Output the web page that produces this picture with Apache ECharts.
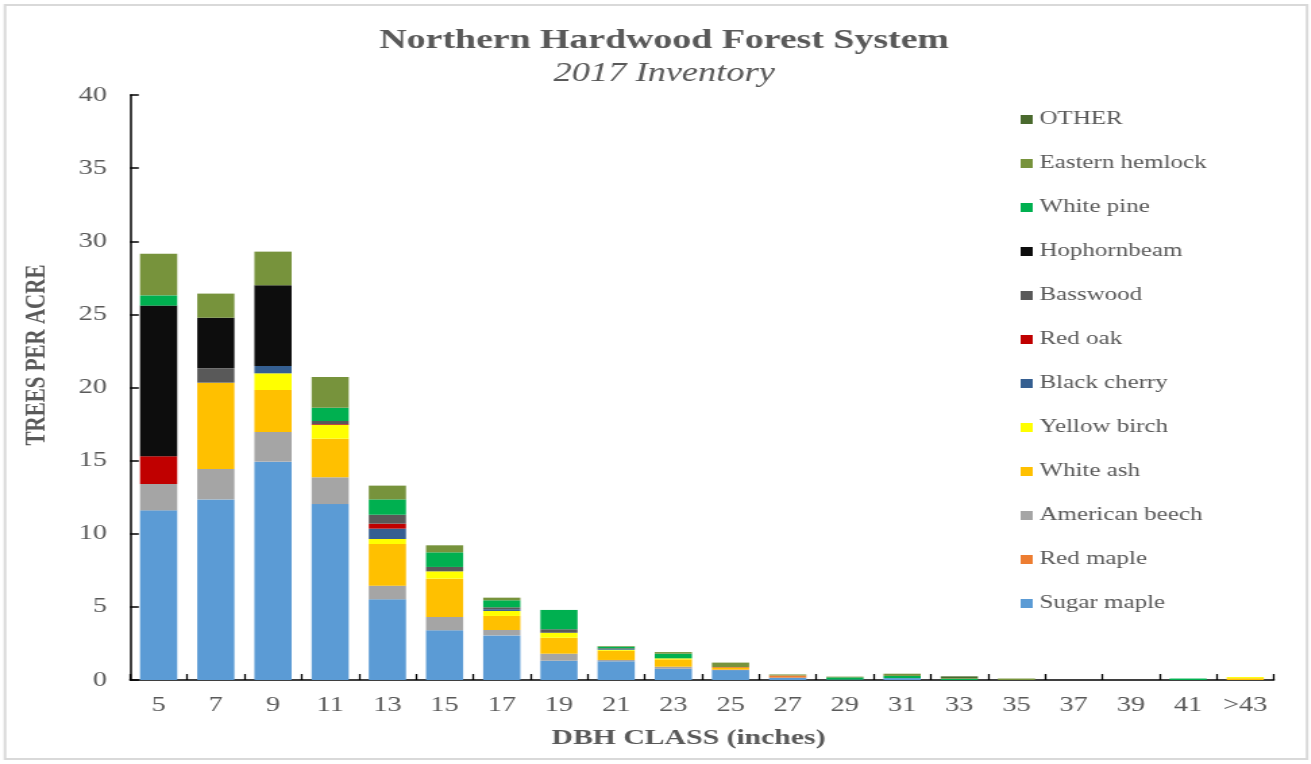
<!DOCTYPE html>
<html>
<head>
<meta charset="utf-8">
<script src="https://cdn.jsdelivr.net/npm/echarts@6/dist/echarts.min.js"></script>
<style>
  html, body { margin: 0; padding: 0; background: #ffffff; overflow: hidden; }
  /* The chart is laid out narrower and widened horizontally, giving the wide-set lettering */
  #chart { width: 971px; height: 764px; transform: scaleX(1.35); transform-origin: 0 0; }
</style>
</head>
<body>
<div id="chart"></div>
<script>
// DBH classes (inches)
const dbhClasses = ['5', '7', '9', '11', '13', '15', '17', '19', '21', '23', '25', '27', '29', '31', '33', '35', '37', '39', '41', '>43'];

// Trees per acre by species, one value per DBH class
const sugarMaple     = [11.6, 12.35, 14.93, 12.03, 5.52, 3.40, 3.05, 1.32, 1.28, 0.77, 0.68, 0.16, 0.03, 0.13, 0, 0, 0, 0, 0, 0];
const redMaple       = [0, 0, 0, 0, 0, 0, 0, 0, 0, 0, 0.04, 0.15, 0, 0, 0, 0, 0, 0, 0, 0];
const americanBeech  = [1.8, 2.08, 2.03, 1.83, 0.93, 0.91, 0.37, 0.48, 0.09, 0.14, 0, 0, 0, 0, 0, 0, 0, 0, 0, 0];
const whiteAsh       = [0, 5.9, 2.87, 2.64, 2.85, 2.62, 0.96, 1.09, 0.63, 0.50, 0.10, 0, 0, 0, 0, 0, 0, 0, 0, 0.12];
const yellowBirch    = [0, 0, 1.14, 0.94, 0.34, 0.50, 0.34, 0.34, 0.07, 0.07, 0.04, 0, 0, 0, 0, 0, 0, 0, 0, 0.08];
const blackCherry    = [0, 0, 0.50, 0, 0.71, 0, 0.12, 0, 0.05, 0, 0, 0, 0, 0, 0, 0, 0, 0, 0, 0];
const redOak         = [1.9, 0, 0, 0.05, 0.34, 0, 0, 0, 0, 0, 0.03, 0, 0, 0, 0, 0, 0, 0, 0, 0];
const basswood       = [0, 0.98, 0, 0.22, 0.61, 0.30, 0.13, 0.24, 0.05, 0, 0, 0, 0, 0, 0, 0, 0, 0, 0, 0];
const hophornbeam    = [10.3, 3.46, 5.52, 0, 0, 0, 0, 0, 0, 0, 0, 0, 0, 0, 0, 0, 0, 0, 0, 0];
const whitePine      = [0.7, 0, 0, 0.91, 1.05, 1.0, 0.48, 1.32, 0.11, 0.32, 0, 0, 0.15, 0.15, 0.07, 0, 0, 0, 0.10, 0];
const easternHemlock = [2.85, 1.65, 2.3, 2.1, 0.94, 0.48, 0.18, 0, 0.04, 0.11, 0.30, 0.07, 0.05, 0.15, 0.05, 0.10, 0, 0, 0, 0];
const other          = [0, 0, 0, 0, 0, 0, 0, 0, 0, 0, 0, 0, 0, 0, 0.13, 0, 0, 0, 0, 0];

const speciesNames = ['Sugar maple', 'Red maple', 'American beech', 'White ash', 'Yellow birch', 'Black cherry',
                      'Red oak', 'Basswood', 'Hophornbeam', 'White pine', 'Eastern hemlock', 'OTHER'];
const speciesData = [sugarMaple, redMaple, americanBeech, whiteAsh, yellowBirch, blackCherry,
                     redOak, basswood, hophornbeam, whitePine, easternHemlock, other];
const speciesColors = ['#5B9BD5', '#ED7D31', '#A5A5A5', '#FFC000', '#FFFF00', '#355F91',
                       '#C00000', '#595959', '#0D0D0D', '#00B050', '#77933C', '#4A6A2E'];

const yTicks = { min: 0, max: 40, interval: 5 };

const textGray = '#595959';
const serif = '"Liberation Serif", "Times New Roman", serif';

const chart = echarts.init(document.getElementById('chart'), null, { renderer: 'canvas' });

const series = speciesNames.map((name, i) => ({
  name: name,
  type: 'bar',
  stack: 'total',
  barCategoryGap: '35%',
  data: speciesData[i],
  itemStyle: { color: speciesColors[i] },
  emphasis: { disabled: true }
}));

chart.setOption({
  animation: false,
  backgroundColor: '#ffffff',
  graphic: [
    {
      type: 'rect',
      shape: { x: 3.7, y: 5, width: 964.5, height: 754 },
      style: { fill: 'none', stroke: '#d9d9d9', lineWidth: 2 },
      silent: true
    },
    {
      // vertical axis title
      type: 'text',
      x: 28,
      y: 355,
      rotation: Math.PI / 2,
      style: {
        text: 'TREES PER ACRE',
        fontFamily: serif, fontSize: 21, fontWeight: 'bold', fill: textGray,
        align: 'center', verticalAlign: 'middle'
      },
      silent: true
    }
  ],
  title: [
    {
      text: 'Northern Hardwood Forest System',
      left: 487, top: 22, textAlign: 'center',
      textStyle: { fontFamily: serif, fontSize: 28, fontWeight: 'bold', color: textGray }
    },
    {
      text: '2017 Inventory',
      left: 487, top: 55, textAlign: 'center',
      textStyle: { fontFamily: serif, fontSize: 27, fontStyle: 'italic', fontWeight: 'normal', color: textGray }
    },
    {
      text: 'DBH CLASS (inches)',
      left: 505, top: 722, textAlign: 'center',
      textStyle: { fontFamily: serif, fontSize: 22, fontWeight: 'bold', color: textGray }
    }
  ],
  legend: {
    orient: 'vertical',
    left: 756,
    top: 110,
    padding: 0,
    itemWidth: 9,
    itemHeight: 9,
    itemGap: 25,
    icon: 'rect',
    data: speciesNames.slice().reverse(),
    textStyle: { fontFamily: serif, fontSize: 18.5, color: textGray },
    selectedMode: false
  },
  grid: { left: 96.3, right: 27.4, top: 95, bottom: 84, containLabel: false },
  xAxis: {
    type: 'category',
    data: dbhClasses,
    axisLine: { lineStyle: { color: '#000000', width: 1.5 } },
    axisTick: { show: true, inside: true, length: 6, lineStyle: { color: '#000000', width: 1.3 } },
    axisLabel: { fontFamily: serif, fontSize: 21, color: textGray, margin: 15, interval: 0 }
  },
  yAxis: {
    type: 'value',
    min: yTicks.min,
    max: yTicks.max,
    interval: yTicks.interval,
    axisLine: { show: true, lineStyle: { color: '#000000', width: 1.5 } },
    axisTick: { show: true, inside: true, length: 6.5, lineStyle: { color: '#000000', width: 1.5 } },
    axisLabel: { fontFamily: serif, fontSize: 21, color: textGray, margin: 17 },
    splitLine: { show: false }
  },
  series: series
});
</script>
</body>
</html>
